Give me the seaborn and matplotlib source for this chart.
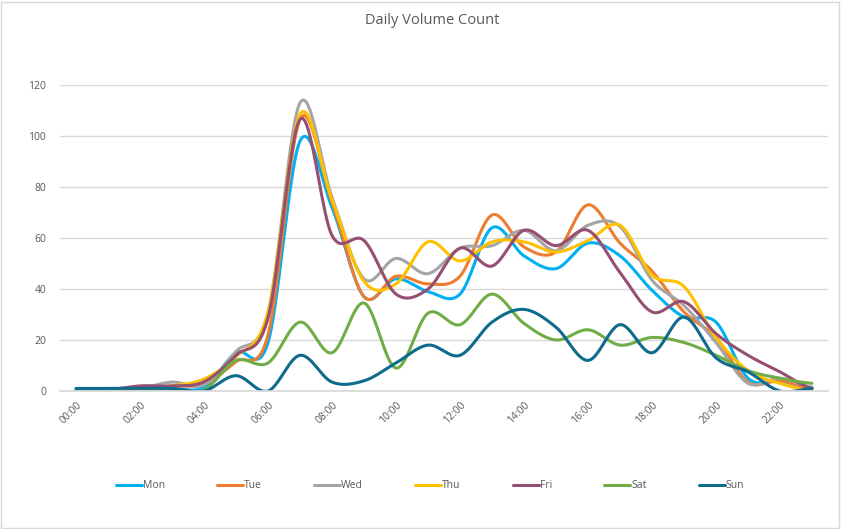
import numpy as np
import pandas as pd
import matplotlib
matplotlib.use("Agg")
import matplotlib.pyplot as plt
import seaborn as sns
from matplotlib.patches import Rectangle

hours = [f"{h:02d}:00" for h in range(24)]
days = ["Mon", "Tue", "Wed", "Thu", "Fri", "Sat", "Sun"]

mon = [0.5, 0.5, 0.5, 1, 1.5, 15, 19, 98, 72, 37, 44, 39, 38, 64, 53, 48, 58, 53, 39.5, 29, 27, 5, 4, 1]
tue = [0, 0, 1, 2, 2.7, 11.5, 22, 106.5, 74, 37, 45, 42, 45, 69, 56.5, 54.5, 73, 58, 47, 31, 21, 3.5, 4, 1]
wed = [0, 0, 1, 3.5, 2.5, 15.5, 30.5, 113, 76, 44, 52, 46, 56, 57, 63, 55, 65, 64.5, 43.5, 33.5, 19, 3, 5, 1.5]
thu = [0, 0, 0.5, 2, 4.7, 13.5, 31, 108.5, 75, 43, 42, 58.5, 51, 58.5, 58.5, 54.5, 59, 65, 45.5, 41, 21, 8, 3, 0]
fri = [0, 0.5, 2, 2, 3.6, 14, 28.6, 106.5, 61, 59, 38, 40, 56, 49, 63, 57, 63, 46.5, 31, 35, 22.5, 14, 7.5, 1]
sat = [0, 0, 0, 0, 0.4, 12, 11, 27, 15, 34.5, 9, 30.5, 26, 38, 26.5, 20, 24, 18, 21, 19, 14, 8, 5, 3]
sun = [1, 1, 1, 1, 0, 6, 0, 14, 3.5, 4, 11, 18, 14, 27, 32, 25, 12, 26, 15, 29, 13, 7.5, 0, 1]

series = [mon, tue, wed, thu, fri, sat, sun]
colors = ["#00B0F0", "#ED7D31", "#A5A5A5", "#FFC000", "#954F72", "#70AD47", "#0F6B8C"]


def smooth(y, n=30):
    """Catmull-Rom rendering of the line through the hourly points (Excel smoothed line)."""
    y = np.asarray(y, float)
    x = np.arange(len(y), dtype=float)
    px = np.concatenate([[2 * x[0] - x[1]], x, [2 * x[-1] - x[-2]]])
    py = np.concatenate([[y[0]], y, [y[-1]]])
    xs, ys = [], []
    t = np.linspace(0, 1, n, endpoint=False)
    for i in range(1, len(px) - 2):
        for arr, out in ((px, xs), (py, ys)):
            p0, p1, p2, p3 = arr[i - 1], arr[i], arr[i + 1], arr[i + 2]
            c1 = p1 + (p2 - p0) / 6
            c2 = p2 - (p3 - p1) / 6
            out.append((1 - t) ** 3 * p1 + 3 * (1 - t) ** 2 * t * c1 + 3 * (1 - t) * t ** 2 * c2 + t ** 3 * p2)
    xs.append([x[-1]])
    ys.append([y[-1]])
    return np.concatenate(xs), np.concatenate(ys)


frames = []
for d, vals in zip(days, series):
    sx, sy = smooth(vals)
    frames.append(pd.DataFrame({"hour": sx, "count": sy, "day": d}))
df = pd.concat(frames, ignore_index=True)

sns.set_theme(style="white")
plt.rcParams["font.family"] = ["Open Sans", "DejaVu Sans"]

fig = plt.figure(figsize=(8.41, 5.29), dpi=100)
ax = fig.add_axes([60 / 841, 1 - 391 / 529, 768 / 841, 306 / 529])

sns.lineplot(data=df, x="hour", y="count", hue="day", hue_order=days,
             palette=colors, linewidth=2.2, sort=False, estimator=None, ax=ax,
             legend=False)

ax.set_xlim(-0.5, 23.5)
ax.set_ylim(0, 120)
ax.set_yticks(range(0, 121, 20))
ax.set_xticks(range(0, 24, 2))
ax.set_xticklabels(hours[::2], rotation=45, ha="right", rotation_mode="anchor")
ax.tick_params(axis="both", length=0, colors="#595959", labelsize=7.5)
ax.tick_params(axis="y", pad=10)
ax.tick_params(axis="x", pad=6)
ax.set_xlabel("")
ax.set_ylabel("")
ax.grid(axis="y", color="#D9D9D9", linewidth=1)
ax.set_axisbelow(True)
for s in ["left", "right", "top"]:
    ax.spines[s].set_visible(False)
ax.spines["bottom"].set_color("#D9D9D9")

fig.suptitle("Daily Volume Count", x=432 / 841, y=1 - 20 / 529, va="center",
             fontsize=10.5, color="#595959")

handles = [plt.Line2D([], [], color=c, linewidth=2.2) for c in colors]
fig.legend(handles, days, loc="center", bbox_to_anchor=(430 / 841, 1 - 486 / 529),
           ncol=7, frameon=False, fontsize=7.5, handlelength=2.5,
           handletextpad=0.1, columnspacing=5.0, labelcolor="#595959")

fig.patches.append(Rectangle((0.001, 0.002), 0.997, 0.995, transform=fig.transFigure,
                             fill=False, edgecolor="#D9D9D9", linewidth=1))

fig.savefig("out.png", dpi=100, facecolor="white")
